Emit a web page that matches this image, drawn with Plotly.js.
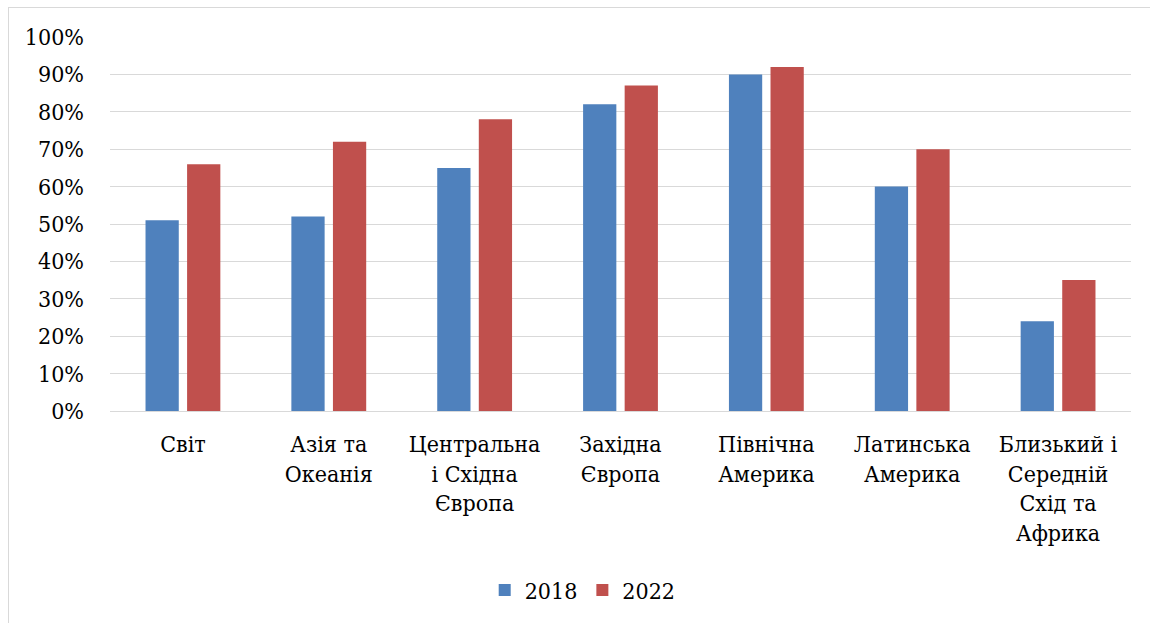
<!DOCTYPE html>
<html>
<head>
<meta charset="utf-8">
<script src="https://cdn.plot.ly/plotly-3.0.1.min.js"></script>
<style>
  html, body { margin: 0; padding: 0; background: #fff; }
  #wrap { position: relative; width: 1150px; height: 623px; overflow: hidden; }
  #frame { position: absolute; left: 8px; top: 7px; width: 1160px; height: 640px; border: 1px solid #d9d9d9; box-sizing: border-box; pointer-events: none; }
  #chart { position: absolute; left: 0; top: 0; width: 1150px; height: 623px; }
</style>
</head>
<body>
<div id="wrap">
  <div id="chart"></div>
  <div id="frame"></div>
</div>
<script>
const categories = [
  "Світ",
  "Азія та<br>Океанія",
  "Центральна<br>і Східна<br>Європа",
  "Західна<br>Європа",
  "Північна<br>Америка",
  "Латинська<br>Америка",
  "Близький і<br>Середній<br>Схід та<br>Африка"
];
const values2018 = [0.51, 0.52, 0.65, 0.82, 0.90, 0.60, 0.24];
const values2022 = [0.66, 0.72, 0.78, 0.87, 0.92, 0.70, 0.35];
const seriesNames = ["2018", "2022"];
const yTicks = [0, 0.1, 0.2, 0.3, 0.4, 0.5, 0.6, 0.7, 0.8, 0.9, 1.0];

const font = "DejaVu Serif Condensed, DejaVu Serif";

const data = [
  { type: "bar", name: seriesNames[0], x: categories, y: values2018, marker: { color: "#4F81BD" }, hoverinfo: "y" },
  { type: "bar", name: seriesNames[1], x: categories, y: values2022, marker: { color: "#C0504D" }, hoverinfo: "y" }
];

const layout = {
  width: 1150, height: 623,
  margin: { l: 110, r: 19, t: 37, b: 212 },
  paper_bgcolor: "rgba(0,0,0,0)",
  plot_bgcolor: "rgba(0,0,0,0)",
  font: { family: font, size: 23, color: "#000" },
  barmode: "group",
  bargap: 0.43,
  bargroupgap: 0.2,
  showlegend: true,
  legend: {
    orientation: "h",
    x: 0.367, xanchor: "left",
    y: -0.479, yanchor: "middle",
    font: { family: font, size: 23, color: "#000" },
    itemwidth: 30,
    tracegroupgap: 0
  },
  xaxis: {
    type: "category",
    showgrid: false,
    showline: true,
    linecolor: "#d9d9d9",
    linewidth: 1,
    ticks: "",
    tickangle: 0,
    ticklabelstandoff: 12,
    tickfont: { family: font, size: 23, color: "#000" },
    fixedrange: true
  },
  yaxis: {
    range: [0, 1],
    tickvals: yTicks,
    tickformat: ".0%",
    showgrid: true,
    gridcolor: "#d9d9d9",
    gridwidth: 1,
    zeroline: false,
    showline: false,
    ticks: "",
    ticklabelstandoff: 25,
    tickfont: { family: font, size: 23, color: "#000" },
    fixedrange: true
  }
};

Plotly.newPlot("chart", data, layout, { displayModeBar: false, staticPlot: true });
</script>
</body>
</html>
